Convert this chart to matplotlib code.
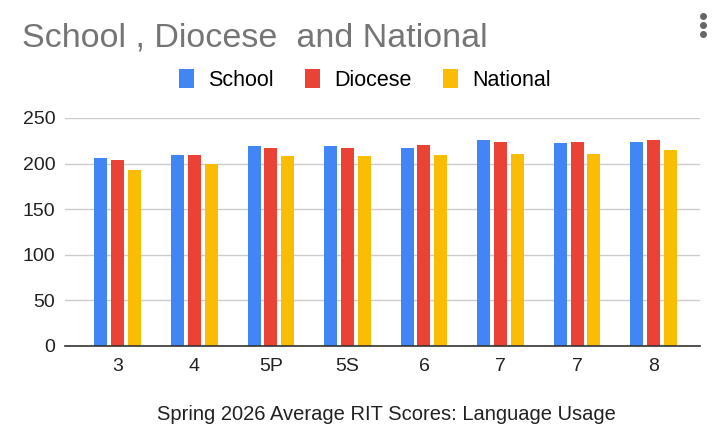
import matplotlib
matplotlib.use("Agg")
import matplotlib.pyplot as plt
from matplotlib.lines import Line2D
import numpy as np

grades = ["3", "4", "5P", "5S", "6", "7", "7", "8"]
school = [206, 209, 219, 219, 217, 226, 222, 224]
diocese = [204, 209, 217, 217, 220, 224, 224, 226]
national = [193, 200, 208, 208, 209, 211, 211, 215]

series = [("School", school, "#4285F4"),
          ("Diocese", diocese, "#EA4335"),
          ("National", national, "#FBBC04")]

plt.rcParams["font.family"] = ["Liberation Sans", "DejaVu Sans"]

fig = plt.figure(figsize=(7.16, 4.45), dpi=100)
ax = fig.add_axes([0.0908, 0.2225, 0.978 - 0.0908, 0.735 - 0.2225])

x = np.arange(len(grades))
width = 0.17
pitch = 0.22
for i, (name, vals, col) in enumerate(series):
    ax.bar(x + (i - 1) * pitch, vals, width, color=col, label=name, zorder=3)

ax.set_xlim(-0.69, 7.61)
ax.set_ylim(0, 250)
ax.set_yticks(range(0, 251, 50))
ax.set_xticks(x)
ax.set_xticklabels(grades)
ax.grid(axis="y", color="#cccccc", linewidth=1, zorder=0)
for s in ["top", "right", "left"]:
    ax.spines[s].set_visible(False)
ax.spines["bottom"].set_color("#333333")
ax.spines["bottom"].set_linewidth(1.2)
ax.spines["bottom"].set_zorder(4)
ax.tick_params(axis="both", length=0, labelsize=14, colors="#222222")
ax.tick_params(axis="x", pad=9)
ax.tick_params(axis="y", pad=7)

fig.text(22 / 716, 1 - 38 / 445, "School , Diocese  and National", fontsize=24.5,
         color="#757575", va="center", ha="left")
fig.text(386 / 716, 1 - 414 / 445, "Spring 2026 Average RIT Scores: Language Usage",
         fontsize=14.5, color="#222222", ha="center", va="center")

# menu dots
fig.add_artist(Line2D([703 / 716] * 3, [1 - 16 / 445, 1 - 25 / 445, 1 - 34 / 445],
                      transform=fig.transFigure, linestyle="none", marker="o",
                      markersize=4, color="#666666"))

ax.legend(loc="center", bbox_to_anchor=(365 / 716, 1 - 80 / 445), bbox_transform=fig.transFigure,
          ncol=3, frameon=False, fontsize=15.5, handlelength=0.7, handleheight=1.0,
          handletextpad=0.65, columnspacing=1.45)

fig.savefig("out.png", dpi=100, facecolor="white")
